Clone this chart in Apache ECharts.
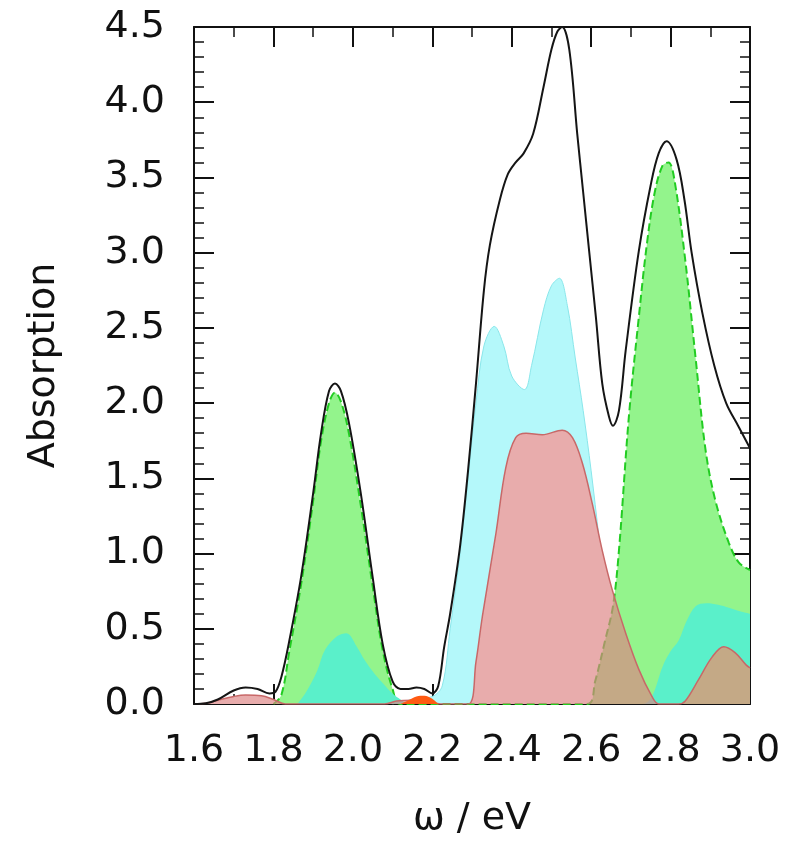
<!DOCTYPE html>
<html>
<head>
<meta charset="utf-8">
<title>Absorption</title>
<script src="https://cdn.jsdelivr.net/npm/echarts@6/dist/echarts.min.js"></script>
<style>
  html, body { margin: 0; padding: 0; background: #fff; }
  #chart { width: 787px; height: 847px; }
</style>
</head>
<body>
<div id="chart"></div>
<script>
// spectra, [omega (eV), absorption]
const total = [
  [1.60, 0.00], [1.63, 0.005], [1.66, 0.03], [1.70, 0.09], [1.73, 0.11], [1.76, 0.10],
  [1.79, 0.07], [1.805, 0.08], [1.82, 0.18], [1.84, 0.42], [1.87, 0.85], [1.90, 1.40],
  [1.92, 1.80], [1.94, 2.08], [1.955, 2.13], [1.97, 2.08], [1.99, 1.87], [2.02, 1.40],
  [2.05, 0.84], [2.075, 0.40], [2.10, 0.15], [2.12, 0.10], [2.14, 0.10], [2.16, 0.11],
  [2.18, 0.10], [2.20, 0.07], [2.215, 0.12], [2.23, 0.38], [2.245, 0.60], [2.27, 1.05],
  [2.29, 1.55], [2.31, 2.13], [2.33, 2.75], [2.345, 3.05], [2.37, 3.35], [2.39, 3.52],
  [2.41, 3.60], [2.43, 3.66], [2.454, 3.79], [2.48, 4.10], [2.50, 4.35], [2.515, 4.47],
  [2.527, 4.50], [2.545, 4.35], [2.565, 3.79], [2.58, 3.40], [2.595, 3.01], [2.612, 2.57],
  [2.628, 2.13], [2.645, 1.91], [2.655, 1.85], [2.67, 1.95], [2.687, 2.35], [2.72, 3.01],
  [2.75, 3.45], [2.77, 3.66], [2.79, 3.74], [2.815, 3.62], [2.835, 3.35], [2.853, 3.00],
  [2.88, 2.60], [2.91, 2.25], [2.94, 2.00], [2.97, 1.85], [3.00, 1.70]
]

const green = [
  [1.80, 0.00], [1.82, 0.06], [1.84, 0.35], [1.87, 0.80], [1.90, 1.35], [1.92, 1.75],
  [1.94, 2.00], [1.955, 2.07], [1.97, 2.01], [1.99, 1.80], [2.02, 1.32], [2.05, 0.78],
  [2.075, 0.36], [2.10, 0.10], [2.12, 0.00], [2.59, 0.00], [2.61, 0.15], [2.635, 0.42],
  [2.655, 0.65], [2.67, 1.02], [2.695, 1.91], [2.72, 2.57], [2.74, 3.05], [2.76, 3.40],
  [2.78, 3.58], [2.795, 3.60], [2.81, 3.48], [2.837, 2.95], [2.863, 2.30], [2.888, 1.69],
  [2.913, 1.35], [2.947, 1.07], [2.972, 0.94], [3.00, 0.89]
]

const cyan = [
  [2.10, 0.00], [2.15, 0.03], [2.20, 0.05], [2.225, 0.12], [2.245, 0.50], [2.27, 1.00],
  [2.29, 1.50], [2.31, 2.00], [2.33, 2.38], [2.356, 2.51], [2.38, 2.38], [2.40, 2.18],
  [2.432, 2.09], [2.45, 2.25], [2.48, 2.62], [2.50, 2.78], [2.52, 2.83], [2.54, 2.65],
  [2.56, 2.30], [2.58, 1.95], [2.60, 1.55], [2.62, 1.10], [2.64, 0.62], [2.66, 0.25],
  [2.68, 0.00]
]

// cyan part lying under the green bands
const turquoise = [
  [1.86, 0.00], [1.88, 0.07], [1.91, 0.22], [1.93, 0.36], [1.96, 0.45], [1.984, 0.47],
  [2.01, 0.38], [2.03, 0.29], [2.055, 0.20], [2.075, 0.14], [2.10, 0.07], [2.12, 0.03],
  [2.14, 0.00], [2.73, 0.00], [2.753, 0.05], [2.78, 0.25], [2.80, 0.35], [2.82, 0.42],
  [2.84, 0.55], [2.863, 0.65], [2.89, 0.67], [2.92, 0.66], [2.947, 0.64], [2.97, 0.62],
  [3.00, 0.60]
]

const pink = [
  [1.60, 0.00], [1.63, 0.005], [1.66, 0.025], [1.70, 0.05], [1.73, 0.06], [1.77, 0.055],
  [1.80, 0.03], [1.83, 0.00], [2.08, 0.00], [2.11, 0.02], [2.15, 0.025], [2.19, 0.02],
  [2.22, 0.00], [2.29, 0.00], [2.31, 0.28], [2.326, 0.58], [2.36, 1.13], [2.385, 1.57],
  [2.41, 1.77], [2.436, 1.80], [2.477, 1.79], [2.527, 1.82], [2.553, 1.77], [2.578, 1.60],
  [2.603, 1.33], [2.628, 1.02], [2.653, 0.76], [2.687, 0.47], [2.72, 0.23], [2.753, 0.05],
  [2.77, 0.00], [2.82, 0.00], [2.837, 0.02], [2.87, 0.16], [2.904, 0.31], [2.934, 0.38],
  [2.963, 0.34], [2.99, 0.26], [3.00, 0.24]
]

const orange = [
  [2.12, 0.00], [2.14, 0.025], [2.16, 0.05], [2.18, 0.055], [2.20, 0.035], [2.215, 0.00]
]

const xTicks = { min: 1.6, max: 3.0, interval: 0.2 }
const yTicks = { min: 0, max: 4.5, interval: 0.5 }

const FONT = 'DejaVu Sans'
const INK = '#111'
const GREEN = '#93f48c'

// pink sits see-through over green (olive), but over white elsewhere
const pinkBump = pink.filter(p => p[0] >= 2.77)

function area(name, data, color, z, extra) {
  return Object.assign({
    name: name,
    type: 'line',
    data: data,
    smooth: 0.35,
    symbol: 'none',
    z: z,
    lineStyle: { width: 0 },
    areaStyle: { color: color, opacity: 1 }
  }, extra || {})
}

function boxAxis(cfg, pos, labels) {
  return {
    type: 'value',
    position: pos,
    min: cfg.min,
    max: cfg.max,
    interval: cfg.interval,
    axisLine: { show: true, onZero: false, lineStyle: { color: INK, width: 2 } },
    axisTick: { show: true, inside: true, length: 20, lineStyle: { color: INK, width: 2 } },
    minorTick: { show: true, splitNumber: pos === 'left' || pos === 'right' ? 5 : 2, length: 10, lineStyle: { color: INK, width: 1.5 } },
    splitLine: { show: false },
    axisLabel: {
      show: labels,
      color: INK,
      fontFamily: FONT,
      fontSize: 38,
      margin: pos === 'left' ? 29 : 28,
      showMinLabel: true,
      showMaxLabel: true,
      formatter: v => v.toFixed(1)
    }
  }
}

const chart = echarts.init(document.getElementById('chart'), null, { renderer: 'canvas' })

const xBottom = Object.assign(boxAxis(xTicks, 'bottom', true), {
  name: 'ω / eV',
  nameLocation: 'middle',
  nameGap: 96,
  nameTextStyle: { color: INK, fontFamily: FONT, fontSize: 38 }
})
const yLeft = Object.assign(boxAxis(yTicks, 'left', true), {
  name: 'Absorption',
  nameLocation: 'middle',
  nameGap: 131,
  nameTextStyle: { color: INK, fontFamily: FONT, fontSize: 38 }
})

chart.setOption({
  animation: false,
  backgroundColor: '#fff',
  grid: { left: 194, right: 37, top: 27, bottom: 143, containLabel: false },
  xAxis: [xBottom, boxAxis(xTicks, 'top', false)],
  yAxis: [yLeft, boxAxis(yTicks, 'right', false)],
  series: [
    area('cyan', cyan, '#b4f8fa', 1, {
      lineStyle: { width: 1, color: '#8ae6ea' }
    }),
    // blank out the cyan below the pink
    area('under pink', pink, '#ffffff', 2),
    area('green', green, GREEN, 3, {
      lineStyle: { width: 2, color: '#22cc22', type: 'dashed' }
    }),
    area('turquoise', turquoise, '#5af0ca', 4),
    area('green under pink', pinkBump, GREEN, 5),
    area('pink', pink, 'rgb(221,131,131)', 6, {
      lineStyle: { width: 1.5, color: '#c86868' },
      areaStyle: { color: 'rgb(221,131,131)', opacity: 0.67 }
    }),
    area('orange', orange, '#ff5a12', 7),
    {
      name: 'total',
      type: 'line',
      data: total,
      smooth: 0.35,
      symbol: 'none',
      z: 8,
      lineStyle: { color: '#151515', width: 2 }
    }
  ]
})

window.addEventListener('resize', function() {
  chart.resize()
})
</script>
</body>
</html>
